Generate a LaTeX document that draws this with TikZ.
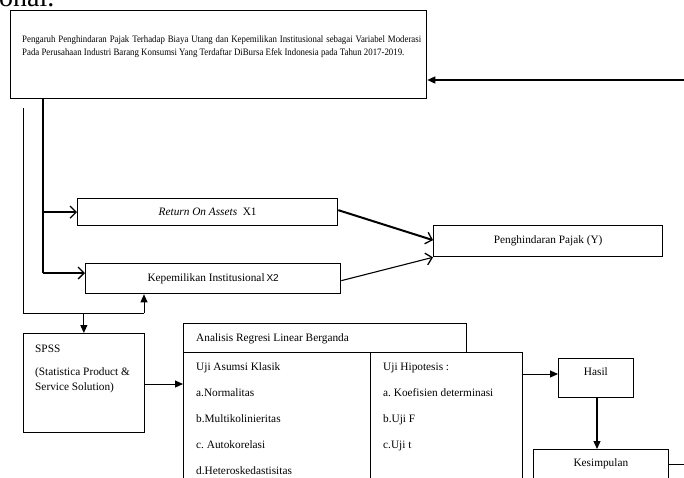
\documentclass[tikz,border=0pt]{standalone}
\usepackage{fontspec}
\setmainfont{Liberation Serif}
\newfontfamily\judulfont{Liberation Serif}[FakeStretch=0.9]
\usetikzlibrary{arrows.meta, positioning}

\begin{document}
\begin{tikzpicture}[x=1pt, y=-1pt,
      box/.style={draw, line width=1.3pt, inner sep=0pt, anchor=north west, font=\fontsize{11.3}{13}\selectfont},
      thinbox/.style={draw, line width=0.7pt, inner sep=0pt, anchor=north west},
      lbl/.style={font=\fontsize{11.3}{13}\selectfont, anchor=base west, inner sep=0pt},
      barb/.style={-{Straight Barb[length=6pt, width=12pt, line width=1.3pt]}},
      tri/.style={-{Triangle[length=8pt, width=7pt]}},
   ]
      \useasboundingbox (0,0) rectangle (684,477);

      % cut-off text of the page above
      \node[font=\fontsize{28}{32}\selectfont, anchor=base west, inner sep=0pt] (sisa) at (-1,6) {onal.};

      % Title
      \node[box, minimum width=416pt, minimum height=88pt] (judul) at (10,10) {};
      \node[anchor=north west, inner sep=0pt, text width=399pt, align=justify,
            font=\judulfont\fontsize{9.8}{13}\selectfont] (judultxt) at (22,35)
         {Pengaruh Penghindaran Pajak Terhadap Biaya Utang dan Kepemilikan Institusional sebagai Variabel Moderasi\linebreak
          Pada Perusahaan Industri Barang Konsumsi Yang Terdaftar DiBursa Efek Indonesia pada Tahun 2017-2019.};
      \coordinate (kanan) at (684,80);
      \draw[tri, line width=1.5pt] (kanan) -- (kanan -| judul.east);

      % Variables
      \node[box, minimum width=260pt, minimum height=27pt] (roa) at (77,198)
         {\textit{Return On Assets}\enspace X1};
      \node[box, minimum width=255pt, minimum height=30pt] (kep) at (85,263)
         {Kepemilikan Institusional\,{\fontspec{Liberation Sans}\fontsize{10}{10}\selectfont X2}};
      \node[box, minimum width=229pt, minimum height=31pt] (pajak) at (433,225)
         {Penghindaran Pajak (Y)};

      % trunk from title
      \coordinate (batang) at (43,273);
      \draw[line width=2pt] (judul.south -| batang) -- (batang);
      \draw[barb, line width=2pt] (batang |- roa.west) -- (roa.west);
      \draw[barb, line width=1.1pt] (batang) -- (kep.west |- batang);

      % to Y
      \draw[barb, line width=2pt] ([yshift=2pt]roa.east) -- ([yshift=1pt]pajak.west);
      \draw[barb, line width=1.1pt] ([yshift=-2pt]kep.east) -- (pajak.south west);

      % SPSS
      \node[thinbox, minimum width=121pt, minimum height=99pt] (spss) at (23,333) {};
      \node[lbl] (spss1) at (35,352) {SPSS};
      \node[lbl] (spss2) at (35,375) {(Statistica Product \&};
      \node[lbl] (spss3) at (35,390) {Service Solution)};

      % thin loop
      \coordinate (atas) at (23,108);
      \coordinate (sudut) at (23,313);
      \coordinate (cabang) at (144,313);
      \draw[line width=1pt] (atas) -- (sudut) -- (cabang);
      \draw[tri, line width=1pt] (cabang) -- (cabang |- kep.south);
      \draw[tri, line width=1pt] (spss.north |- sudut) -- (spss.north);

      % Analisis
      \node[thinbox, minimum width=283pt, minimum height=29pt] (analisis) at (183,323) {};
      \node[lbl] (analisistxt) at (196,341) {Analisis Regresi Linear Berganda};
      \node[thinbox, minimum width=187pt, minimum height=140pt] (asumsi) at (183,352) {};
      \node[thinbox, minimum width=152pt, minimum height=140pt] (hipotesis) at (370,352) {};
      \foreach \t [count=\i from 0] in {Uji Asumsi Klasik, a.Normalitas, b.Multikolinieritas,
            c.\ Autokorelasi, d.Heteroskedastisitas}
         \node[lbl] (asumsi\i) at (196,370+26*\i) {\t};
      \foreach \t [count=\i from 0] in {Uji\ Hipotesis :, a.\ Koefisien determinasi, b.Uji F, c.Uji t}
         \node[lbl] (hipotesis\i) at (383,370+26*\i) {\t};
      \draw[tri, line width=1pt] (spss.east |- 0,384) -- (asumsi.west |- 0,384);

      % Hasil and Kesimpulan
      \node[thinbox, minimum width=75pt, minimum height=39pt] (hasil) at (558,358) {};
      \node[lbl, anchor=base] (hasiltxt) at (hasil.north |- 0,375) {Hasil};
      \draw[tri, line width=1pt] (hipotesis.east |- 0,374) -- (hasil.west |- 0,374);
      \node[thinbox, minimum width=135pt, minimum height=40pt] (simpul) at (533,449) {};
      \node[lbl, anchor=base] (simpultxt) at (simpul.north |- 0,466) {Kesimpulan};
      \draw[tri, line width=1.2pt] (hasil.south -| 597,0) -- (simpul.north -| 597,0);
      \coordinate (ujung) at (684,464);
      \draw[line width=0.7pt] (simpul.east |- ujung) -- (ujung);
   \end{tikzpicture}
\end{document}
